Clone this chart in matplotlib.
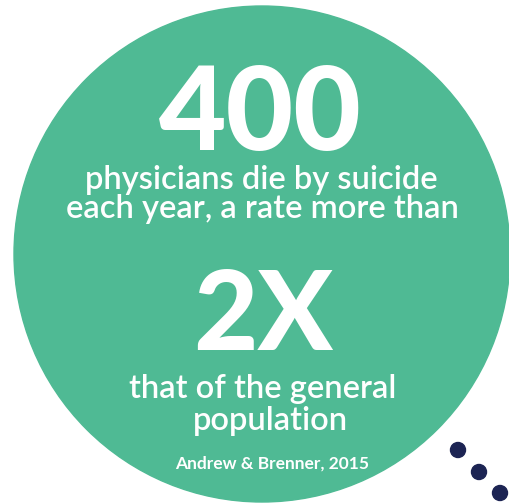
import matplotlib
matplotlib.use("Agg")
import matplotlib.pyplot as plt
from matplotlib.patches import Circle

# ---- content ----
big_number = "400"
line1 = ["physicians die by suicide", "each year, a rate more than"]
ratio = "2X"
line2 = ["that of the general", "population"]
citation = "Andrew & Brenner, 2015"
dots_x = [458, 479, 500]
dots_y = [450, 472, 493]

GREEN = "#4fba94"
NAVY = "#1c2453"
FONT = ["Lato", "DejaVu Sans"]

fig = plt.figure(figsize=(5.10, 5.04), dpi=100)
ax = fig.add_axes([0, 0, 1, 1])
ax.set_xlim(0, 510)
ax.set_ylim(504, 0)
ax.set_aspect("auto")
ax.axis("off")

ax.add_patch(Circle((262, 254), 248, color=GREEN, zorder=1))

for x, y in zip(dots_x, dots_y):
    ax.add_patch(Circle((x, y), 7.5, color=NAVY, zorder=2))

ax.text(260, 150, big_number, ha="center", va="baseline", color="white",
        fontsize=84, fontweight="black", family=FONT, zorder=3)
ax.text(261, 189, line1[0], ha="center", va="baseline", color="white",
        fontsize=23.5, fontweight="semibold", family=FONT, zorder=3)
ax.text(262, 218, line1[1], ha="center", va="baseline", color="white",
        fontsize=23.5, fontweight="semibold", family=FONT, zorder=3)
ax.text(263, 350, ratio, ha="center", va="baseline", color="white",
        fontsize=80, fontweight="black", family=FONT, zorder=3)
ax.text(263, 398, line2[0], ha="center", va="baseline", color="white",
        fontsize=23.5, fontweight="semibold", family=FONT, zorder=3)
ax.text(270, 430, line2[1], ha="center", va="baseline", color="white",
        fontsize=23.5, fontweight="semibold", family=FONT, zorder=3)
ax.text(272, 469, citation, ha="center", va="baseline", color="white",
        fontsize=12.5, fontweight="bold", family=FONT, zorder=3)

fig.savefig("out.png", dpi=100, facecolor="white")
